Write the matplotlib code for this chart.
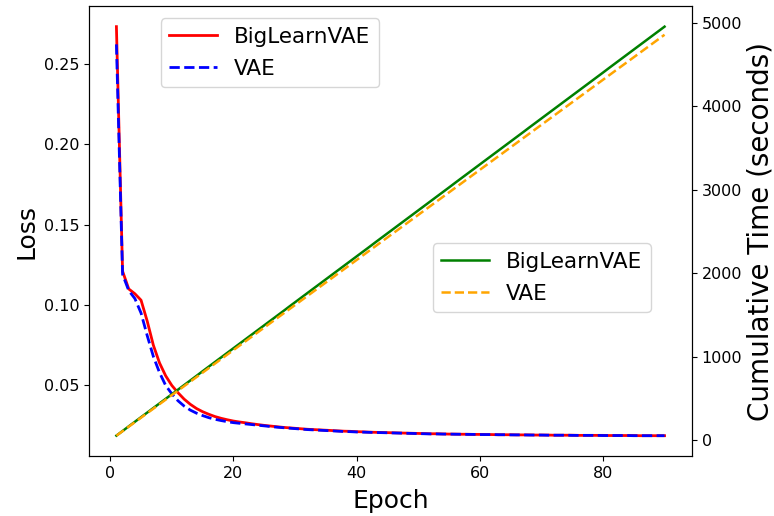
import numpy as np
import matplotlib
matplotlib.use("Agg")
import matplotlib.pyplot as plt

epochs = list(range(1, 91))

loss_biglearn = [
    0.273, 0.121, 0.110, 0.107, 0.103, 0.090, 0.075, 0.064, 0.056, 0.050,
    0.0455, 0.0415, 0.0383, 0.0357, 0.0337, 0.0321, 0.0307, 0.0296, 0.0287, 0.0279,
    0.0273, 0.0268, 0.0262, 0.0257, 0.0252, 0.0248, 0.0244, 0.0240, 0.0237, 0.0234,
    0.0231, 0.0228, 0.0226, 0.0224, 0.0222, 0.0220, 0.0218, 0.0216, 0.0215, 0.0213,
    0.0212, 0.0210, 0.0209, 0.0208, 0.0207, 0.0206, 0.0205, 0.0204, 0.0203, 0.0202,
    0.0201, 0.0200, 0.0200, 0.0199, 0.0198, 0.0198, 0.0197, 0.0197, 0.0196, 0.0196,
    0.0195, 0.0195, 0.0194, 0.0194, 0.0194, 0.0193, 0.0193, 0.0193, 0.0192, 0.0192,
    0.0192, 0.0191, 0.0191, 0.0191, 0.0191, 0.0190, 0.0190, 0.0190, 0.0190, 0.0190,
    0.0189, 0.0189, 0.0189, 0.0189, 0.0189, 0.0188, 0.0188, 0.0188, 0.0188, 0.0188,
]

loss_vae = [
    0.262, 0.119, 0.109, 0.104, 0.095, 0.081, 0.068, 0.058, 0.050, 0.0448,
    0.0405, 0.0372, 0.0347, 0.0328, 0.0313, 0.0300, 0.0290, 0.0282, 0.0275, 0.0269,
    0.0265, 0.0261, 0.0257, 0.0253, 0.0249, 0.0245, 0.0241, 0.0238, 0.0235, 0.0232,
    0.0229, 0.0226, 0.0224, 0.0222, 0.0220, 0.0218, 0.0216, 0.0214, 0.0213, 0.0211,
    0.0210, 0.0209, 0.0208, 0.0207, 0.0206, 0.0205, 0.0204, 0.0203, 0.0202, 0.0201,
    0.0200, 0.0199, 0.0199, 0.0198, 0.0198, 0.0197, 0.0197, 0.0196, 0.0196, 0.0195,
    0.0195, 0.0195, 0.0194, 0.0194, 0.0193, 0.0193, 0.0193, 0.0192, 0.0192, 0.0192,
    0.0191, 0.0191, 0.0191, 0.0191, 0.0190, 0.0190, 0.0190, 0.0190, 0.0190, 0.0189,
    0.0189, 0.0189, 0.0189, 0.0189, 0.0188, 0.0188, 0.0188, 0.0188, 0.0188, 0.0188,
]

time_biglearn = [
    55, 110, 166, 221, 276, 331, 386, 441, 496, 551,
    606, 661, 716, 771, 827, 882, 937, 992, 1047, 1102,
    1157, 1212, 1267, 1322, 1377, 1432, 1487, 1542, 1598, 1653,
    1708, 1763, 1818, 1873, 1928, 1983, 2038, 2093, 2148, 2203,
    2258, 2313, 2369, 2424, 2479, 2534, 2589, 2644, 2699, 2754,
    2809, 2864, 2919, 2974, 3029, 3085, 3140, 3195, 3250, 3305,
    3360, 3415, 3470, 3525, 3580, 3635, 3690, 3746, 3801, 3856,
    3911, 3966, 4021, 4076, 4131, 4186, 4241, 4296, 4351, 4406,
    4462, 4517, 4572, 4627, 4682, 4737, 4792, 4847, 4902, 4957,
]

time_vae = [
    54, 108, 162, 216, 270, 324, 378, 432, 486, 540,
    594, 648, 702, 756, 810, 864, 918, 972, 1026, 1080,
    1134, 1188, 1242, 1296, 1350, 1404, 1458, 1512, 1566, 1620,
    1674, 1728, 1782, 1836, 1890, 1944, 1998, 2052, 2106, 2160,
    2214, 2268, 2322, 2376, 2430, 2484, 2538, 2592, 2646, 2700,
    2754, 2808, 2862, 2916, 2970, 3024, 3078, 3132, 3186, 3240,
    3294, 3348, 3402, 3456, 3510, 3564, 3618, 3672, 3726, 3780,
    3834, 3888, 3942, 3996, 4050, 4104, 4158, 4212, 4266, 4320,
    4374, 4428, 4482, 4536, 4590, 4644, 4698, 4752, 4806, 4860,
]

fig, ax1 = plt.subplots(figsize=(7.74, 5.16), dpi=100)
fig.subplots_adjust(left=0.115, right=0.894, bottom=0.116, top=0.988)

# --- Loss curves (left axis) ---
ax1.plot(epochs, loss_biglearn, color='red', linewidth=2, label='BigLearnVAE')
ax1.plot(epochs, loss_vae, color='blue', linestyle='--', linewidth=2, label='VAE')
ax1.set_xlabel("Epoch", fontsize=18, labelpad=6)
ax1.set_ylabel("Loss", fontsize=18)
ax1.tick_params(labelsize=11.5)
ax1.legend(loc='upper left', bbox_to_anchor=(0.119, 0.973), borderaxespad=0,
           fontsize=15.5, handlelength=2.2, labelspacing=0.55)

# --- Cumulative time (right axis) ---
ax2 = ax1.twinx()
ax2.plot(epochs, time_biglearn, color='green', linewidth=1.8, label='BigLearnVAE')
ax2.plot(epochs, time_vae, color='orange', linestyle='--', linewidth=1.8, label='VAE')
ax2.set_ylabel("Cumulative Time (seconds)", fontsize=20, labelpad=3)
ax2.tick_params(labelsize=11.5)
ax2.legend(loc='upper left', bbox_to_anchor=(0.570, 0.473), borderaxespad=0,
           fontsize=15.5, handlelength=2.2, labelspacing=0.55)

plt.savefig("out.png", dpi=100)
